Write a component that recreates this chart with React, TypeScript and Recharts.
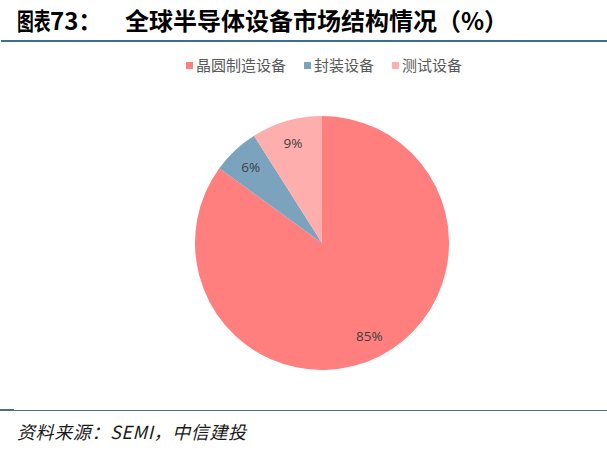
import React from 'react';
import { PieChart, Pie, Cell } from 'recharts';

const categories = ['晶圆制造设备', '封装设备', '测试设备'];
const shares = [85, 6, 9];
const colors = ['#FF7F7F', '#7BA3BE', '#FFAEAE'];

const data = categories.map((name, i) => ({ name, value: shares[i] }));

const RADIAN = Math.PI / 180;
const cjk = "'Noto Sans CJK SC', sans-serif";

const renderLabel = (props: any) => {
  const { cx, cy, midAngle, outerRadius, value } = props;
  const r = outerRadius * 0.82;
  const x = cx + r * Math.cos(-midAngle * RADIAN);
  const y = cy + r * Math.sin(-midAngle * RADIAN);
  return (
    <text
      x={x}
      y={y}
      fill="#404040"
      fontSize={13.5}
      fontFamily="'Open Sans', 'Noto Sans', sans-serif"
      textAnchor="middle"
      dominantBaseline="central"
    >
      {`${value}%`}
    </text>
  );
};

const LegendRow = () => (
  <div
    style={{
      position: 'absolute',
      left: 186,
      top: 55,
      display: 'flex',
      fontFamily: cjk,
      fontSize: 15,
      lineHeight: '20px',
      color: '#595959',
    }}
  >
    {categories.map((c, i) => (
      <div key={c} style={{ display: 'flex', alignItems: 'center', marginRight: i < categories.length - 1 ? 18 : 0 }}>
        <span style={{ width: 7, height: 7, background: colors[i], marginRight: 3, display: 'inline-block' }} />
        <span>{c}</span>
      </div>
    ))}
  </div>
);

const titleStyle: React.CSSProperties = {
  position: 'absolute',
  top: 5,
  fontFamily: cjk,
  fontWeight: 700,
  fontSize: 24,
  color: '#000',
  whiteSpace: 'pre',
  lineHeight: '30px',
};

export default function App() {
  return (
    <div style={{ position: 'absolute', left: 0, top: 0, width: 607, height: 450, background: '#fff', overflow: 'hidden' }}>
      <div style={{ ...titleStyle, left: 17, transform: 'scaleX(0.7)', transformOrigin: 'left center' }}>图表</div>
      <div style={{ ...titleStyle, left: 50 }}>73：</div>
      <div style={{ ...titleStyle, left: 125 }}>全球半导体设备市场结构情况（%）</div>
      <div style={{ position: 'absolute', left: 1, top: 40, width: 606, height: 2, background: '#3D6C95' }} />
      <LegendRow />
      <PieChart
        width={607}
        height={450}
        margin={{ top: 0, right: 0, bottom: 0, left: 0 }}
        style={{ position: 'absolute', left: 0, top: 0 }}
      >
        <Pie
          data={data}
          dataKey="value"
          nameKey="name"
          cx={322}
          cy={243}
          outerRadius={127}
          startAngle={90}
          endAngle={-270}
          stroke="none"
          label={renderLabel}
          labelLine={false}
          isAnimationActive={false}
        >
          {data.map((d, i) => (
            <Cell key={d.name} fill={colors[i]} />
          ))}
        </Pie>
      </PieChart>
      <div style={{ position: 'absolute', left: 0, top: 410, width: 607, height: 1, background: '#4F6B88' }} />
      <div style={{ position: 'absolute', left: 0, top: 409, width: 14, height: 2, background: '#4F6B88' }} />
      <div
        style={{
          position: 'absolute',
          left: 17,
          top: 418,
          fontFamily: cjk,
          fontStyle: 'italic',
          fontSize: 18,
          color: '#1a1a1a',
          whiteSpace: 'pre',
          lineHeight: '26px',
          letterSpacing: 0.6,
        }}
      >
        {'资料来源：SEMI，中信建投'}
      </div>
    </div>
  );
}
